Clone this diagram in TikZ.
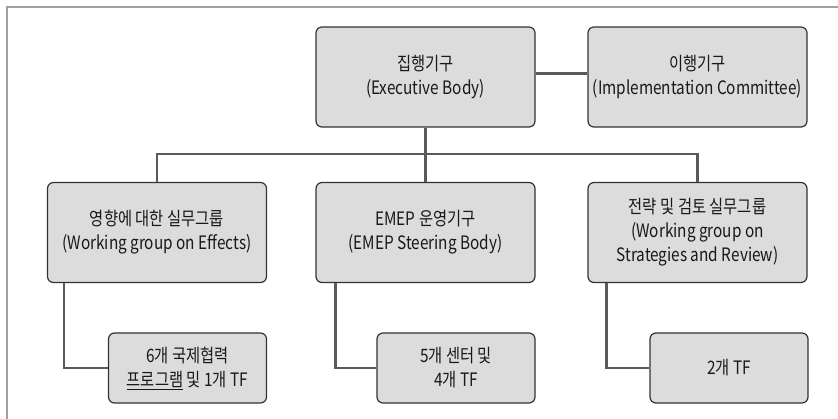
\documentclass[tikz,border=0pt]{standalone}
\usepackage{fontspec}
\setmainfont[FakeStretch=0.83]{Noto Sans CJK KR}
\usepackage{tikz}
\usetikzlibrary{positioning}
\definecolor{boxfill}{HTML}{DCDCDC}
\definecolor{boxline}{HTML}{333333}
\definecolor{linkgray}{HTML}{5A5A5A}
\definecolor{framegray}{HTML}{A0A0A0}
\tikzstyle{box} = [rectangle, rounded corners=6pt, fill=boxfill, draw=boxline, line width=1.2pt, align=center, text=black!90, font=\fontsize{18.5}{24}\selectfont, inner sep=0pt]
\tikzstyle{bigbox} = [box, minimum width=219pt, minimum height=100pt]
\tikzstyle{smallbox} = [box, minimum width=158pt, minimum height=70pt]
\tikzstyle{link} = [line width=2.8pt, draw=linkgray]

\begin{document}
\begin{tikzpicture}[x=1pt, y=-1pt]
        \useasboundingbox (0,0) rectangle (838,419);
        \draw[framegray, line width=1.5pt] (7,419) -- (7,7) -- (838,7);

        \node[bigbox] (exec) at (425.5,77) {집행기구\\(Executive Body)};
        \node[bigbox] (impl) at (697.5,77) {이행기구\\(Implementation Committee)};

        \node[bigbox] (effects) at (157,232.5) {영향에 대한 실무그룹\\(Working group on Effects)};
        \node[bigbox] (emep) at (425.5,232.5) {EMEP 운영기구\\(EMEP Steering Body)};
        \node[bigbox] (strat) at (697.5,232.5) {전략 및 검토 실무그룹\\(Working group on\\Strategies and Review)};

        \node[smallbox] (six) at (187.5,368) {6개 국제협력\\\underline{프로그램} 및 1개 TF};
        \node[smallbox] (five) at (456,368) {5개 센터 및\\4개 TF};
        \node[smallbox] (two) at (729,368) {2개 TF};

        \coordinate (bar) at (425.5,154);

        \draw[link] ([yshift=3.5pt]exec.east) -- ([yshift=3.5pt]impl.west);
        \draw[link] (exec.south) -- (emep.north);
        \draw[link] (effects.north) |- (bar) -| (strat.north);

        \draw[link] ([xshift=17pt]effects.south west) |- (six.west);
        \draw[link] ([xshift=20pt]emep.south west) |- (five.west);
        \draw[link] ([xshift=19pt]strat.south west) |- (two.west);
    \end{tikzpicture}
\end{document}
